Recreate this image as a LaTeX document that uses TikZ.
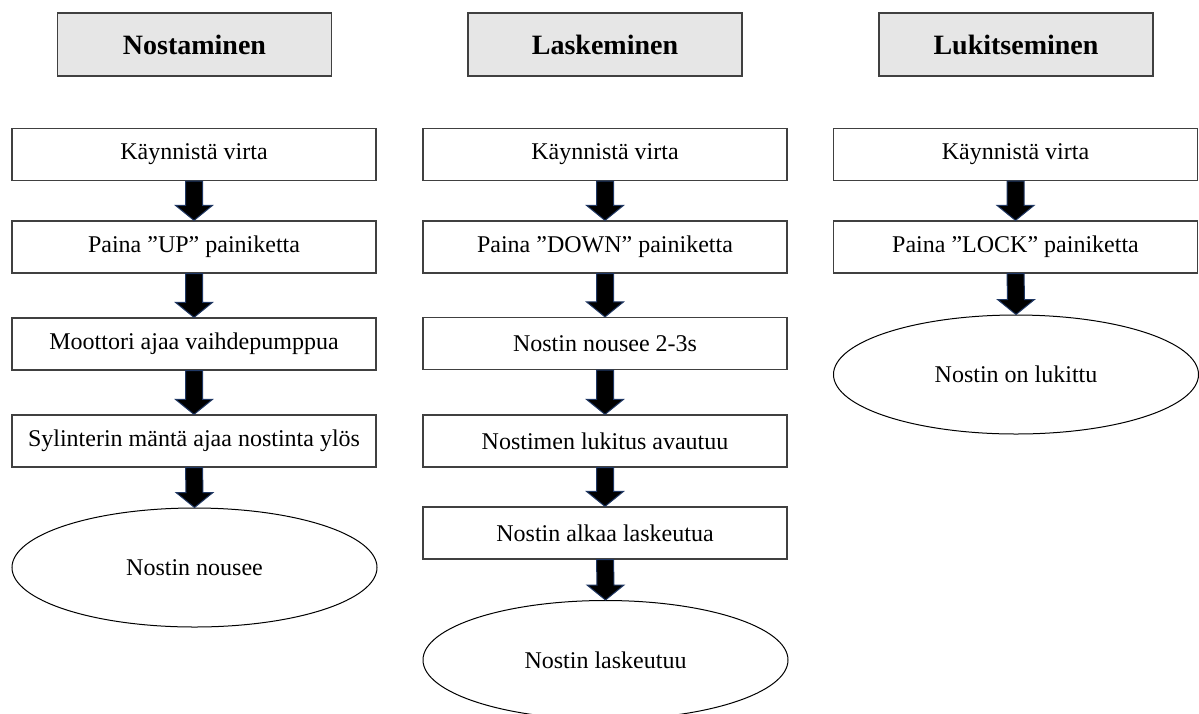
\documentclass[tikz,border=0pt]{standalone}
\usepackage{fontspec}
\setmainfont{Liberation Serif}
\usetikzlibrary{shapes.geometric,calc}
\definecolor{reuna}{HTML}{404040}
\definecolor{tausta}{HTML}{E6E6E6}
\definecolor{nuolireuna}{HTML}{203864}

% paksu nuoli laatikosta toiseen
\newcommand{\nuoli}[2]{%
  \path (#1.south) coordinate (n1) (#2.north) coordinate (n2);
  \filldraw[nuolityyli] ($(n1)+(-8.5,0)$) -- ($(n1)+(8.5,0)$)
    -- ($(n2)+(8.5,-15)$) -- ($(n2)+(18.5,-15)$) -- (n2)
    -- ($(n2)+(-18.5,-15)$) -- ($(n2)+(-8.5,-15)$) -- cycle;
}

\begin{document}
\begin{tikzpicture}[x=0.5pt,y=-0.5pt,
  otsikko/.style={draw=reuna,line width=0.75pt,fill=tausta,
    minimum width=137pt,minimum height=31.5pt,
    font=\fontsize{14}{16}\selectfont\bfseries},
  vaihe/.style={draw=reuna,line width=0.6pt,fill=white,
    minimum width=182pt,minimum height=26pt,
    font=\fontsize{12}{14}\selectfont},
  loppu/.style={ellipse,draw=black,line width=0.5pt,
    minimum width=182.5pt,minimum height=59.5pt,
    font=\fontsize{12}{14}\selectfont},
  nuolityyli/.style={fill=black,draw=nuolireuna,line width=0.5pt}]

\useasboundingbox (0,0) rectangle (1199,713);

% otsikot
\node[otsikko] (ots1) at (194.5,44.5) {Nostaminen};
\node[otsikko] (ots2) at (605,44.5) {Laskeminen};
\node[otsikko] (ots3) at (1016,44.5) {Lukitseminen};

% nostaminen
\node[vaihe] (a1) at (194,154.5) {Käynnistä virta};
\node[vaihe] (a2) at (194,247) {Paina ”UP” painiketta};
\node[vaihe] (a3) at (194,344) {Moottori ajaa vaihdepumppua};
\node[vaihe] (a4) at (194,441) {Sylinterin mäntä ajaa nostinta ylös};
\node[loppu] (a5) at (194.5,567.5) {Nostin nousee};

% laskeminen
\node[vaihe] (b1) at (605,154.5) {Käynnistä virta};
\node[vaihe] (b2) at (605,247) {Paina ”DOWN” painiketta};
\node[vaihe] (b3) at (605,343.5) {Nostin nousee 2-3s};
\node[vaihe] (b4) at (605,441) {Nostimen lukitus avautuu};
\node[vaihe] (b5) at (605,533) {Nostin alkaa laskeutua};
\node[loppu] (b6) at (605.5,660) {Nostin laskeutuu};

% lukitseminen
\node[vaihe] (c1) at (1015.5,154.5) {Käynnistä virta};
\node[vaihe] (c2) at (1015.5,247) {Paina ”LOCK” painiketta};
\node[loppu] (c3) at (1016,374.5) {Nostin on lukittu};

% nuolet
\nuoli{a1}{a2}
\nuoli{a2}{a3}
\nuoli{a3}{a4}
\nuoli{a4}{a5}
\nuoli{b1}{b2}
\nuoli{b2}{b3}
\nuoli{b3}{b4}
\nuoli{b4}{b5}
\nuoli{b5}{b6}
\nuoli{c1}{c2}
\nuoli{c2}{c3}

\end{tikzpicture}
\end{document}
